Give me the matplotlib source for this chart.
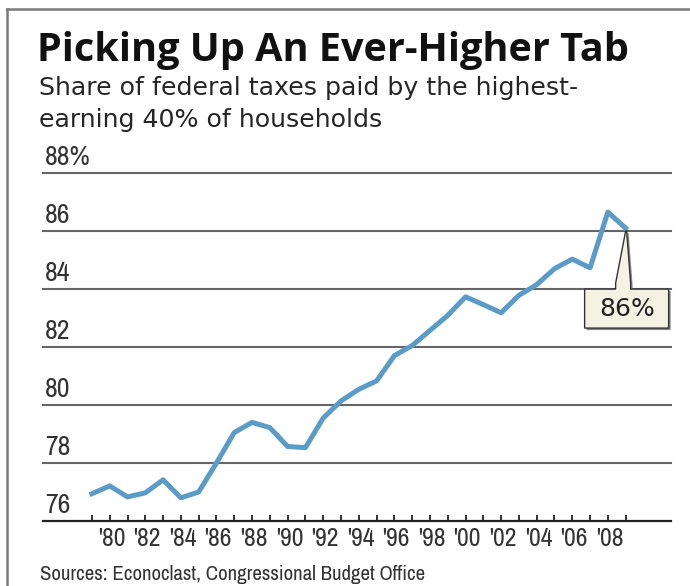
import matplotlib
matplotlib.use('Agg')
import matplotlib.pyplot as plt
import matplotlib.transforms as mtransforms
from matplotlib.patches import Polygon

# data (share of federal taxes, %)
years = list(range(1979, 2010))
share = [76.94, 77.21, 76.83, 76.97, 77.42, 76.80, 77.00, 78.00, 79.05, 79.40,
         79.22, 78.57, 78.53, 79.55, 80.14, 80.54, 80.83, 81.70, 82.05, 82.57,
         83.09, 83.73, 83.46, 83.18, 83.78, 84.15, 84.70, 85.03, 84.73, 86.65,
         86.10]
ytick_vals = [76, 78, 80, 82, 84, 86, 88]
ytick_labels = ['76', '78', '80', '82', '84', '86', '88%']
xtick_years = list(range(1980, 2010, 2))
xtick_labels = ["'%02d" % (y % 100) for y in xtick_years]
callout_text = '86%'

narrow = ['Archivo Narrow', 'DejaVu Sans']

W, H = 690, 586
fig = plt.figure(figsize=(W / 100, H / 100), dpi=100)
fig.patch.set_facecolor('white')

# frame lines (top and left)
fig.add_artist(plt.Line2D([7 / W, 1], [1 - 9 / H, 1 - 9 / H], color='#7a7a7a', lw=1.8))
fig.add_artist(plt.Line2D([7 / W, 7 / W], [0, 1 - 9 / H], color='#7a7a7a', lw=1.8))

fig.text(37 / W, 1 - 61 / H, 'Picking Up An Ever-Higher Tab', fontsize=28.5,
         fontweight='bold', family=['Open Sans', 'DejaVu Sans'], color='#111111', va='baseline')
fig.text(39 / W, 1 - 95 / H, 'Share of federal taxes paid by the highest-', fontsize=18.2,
         family='DejaVu Sans', color='#262626', va='baseline')
fig.text(39 / W, 1 - 127 / H, 'earning 40% of households', fontsize=18.2,
         family='DejaVu Sans', color='#262626', va='baseline')
fig.text(40 / W, 1 - 580 / H, 'Sources: Econoclast, Congressional Budget Office',
         fontsize=15, family=narrow, color='#333333', va='baseline')

ax = fig.add_axes([43 / W, 1 - 521 / H, (671 - 43) / W, (521 - 173) / H])
ax.set_xlim(1976.25, 2011.55)
ax.set_ylim(76, 88)
for s in ['top', 'right', 'left']:
    ax.spines[s].set_visible(False)
ax.spines['bottom'].set_color('#222222')
ax.spines['bottom'].set_linewidth(1.6)

for v in ytick_vals[1:]:
    ax.axhline(v, color='#666666', lw=1.5, clip_on=False, zorder=1)
for v, lab in zip(ytick_vals, ytick_labels):
    ax.text(1976.35, v + 0.1, lab, fontsize=20, family=narrow, color='#333333',
            ha='left', va='bottom')

ax.set_yticks([])
ax.set_xticks(years)
ax.set_xticklabels([''] * len(years))
ax.tick_params(axis='x', direction='in', length=4.5, width=1.3, color='#222222')
for y, lab in zip(xtick_years, xtick_labels):
    ax.text(y + 0.1, 75.8, lab, fontsize=18.5, family=narrow, color='#333333',
            ha='center', va='top')

ax.plot(years, share, color='#5b9bc8', lw=3.6, solid_joinstyle='round', zorder=3)

# callout pointing at the last point
px = [0, -10, -10, -41, -41, 43, 43, 5, 5, 1]
py = [3, 55, 61, 61, 100, 100, 61, 61, 55, 3]
verts = [(a / 100, -b / 100) for a, b in zip(px, py)]
tr = fig.dpi_scale_trans + mtransforms.ScaledTranslation(years[-1], share[-1], ax.transData)
tr_sh = fig.dpi_scale_trans + mtransforms.ScaledTranslation(0.02, -0.02, fig.dpi_scale_trans) \
    + mtransforms.ScaledTranslation(years[-1], share[-1], ax.transData)
ax.add_patch(Polygon(verts, closed=True, transform=tr_sh, facecolor='#888888',
                     edgecolor='none', clip_on=False, zorder=4))
ax.add_patch(Polygon(verts, closed=True, transform=tr, facecolor='#f4f2e2',
                     edgecolor='#333333', lw=1.0, clip_on=False, zorder=5))
ax.text(0.01, -0.805, callout_text, transform=tr, fontsize=18, family='DejaVu Sans',
        color='#222222', ha='center', va='center', zorder=6)

fig.savefig('out.png', dpi=100)
